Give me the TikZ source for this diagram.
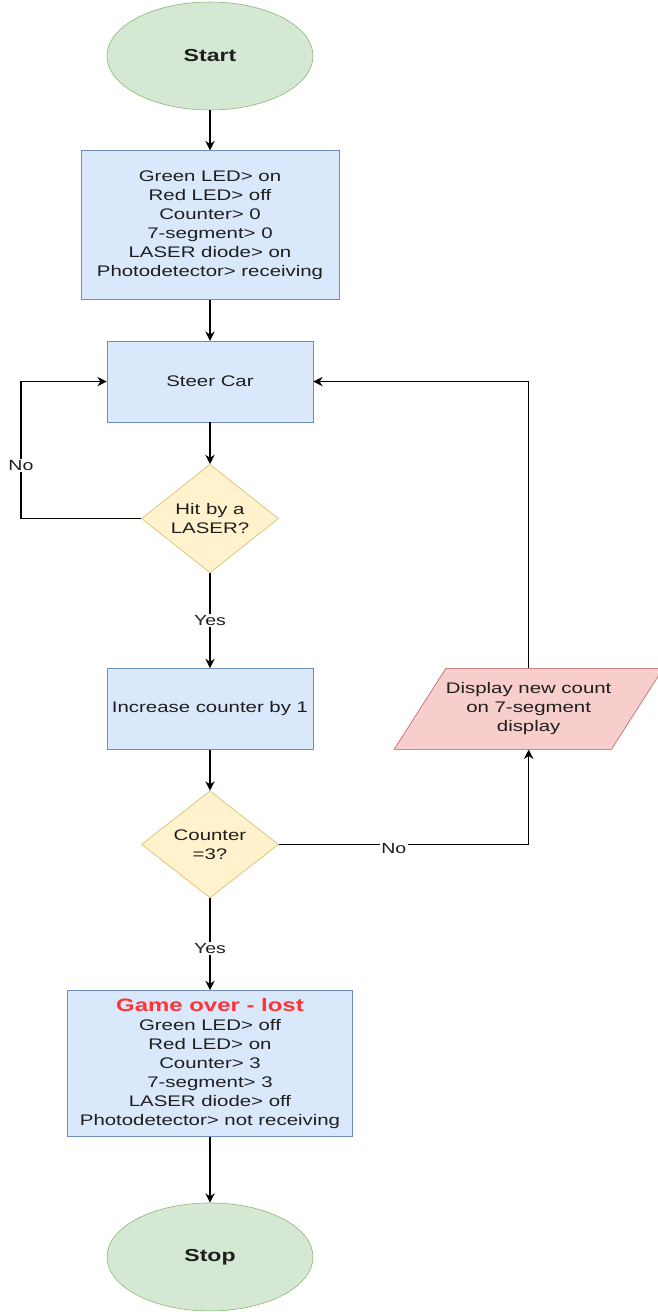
\documentclass[tikz,border=0pt]{standalone}
\usepackage{fontspec}
\setmainfont{Liberation Sans}[FakeStretch=1.33]
\usetikzlibrary{arrows.meta,positioning,shapes.geometric}

\definecolor{termfill}{HTML}{D5E8D4}
\definecolor{termdraw}{HTML}{82B366}
\definecolor{procfill}{HTML}{DAE8FC}
\definecolor{procdraw}{HTML}{6C8EBF}
\definecolor{decfill}{HTML}{FFF2CC}
\definecolor{decdraw}{HTML}{D6B656}
\definecolor{iofill}{HTML}{F8CECC}
\definecolor{iodraw}{HTML}{B85450}
\definecolor{lostred}{HTML}{FF3333}
\definecolor{txt}{HTML}{1E1E1E}

\begin{document}
\begin{tikzpicture}[
    x=0.75pt, y=-0.75pt,
    every node/.style={text=txt},
    term/.style={ellipse, draw=termdraw, fill=termfill, minimum width=154.5pt,
                 minimum height=81pt, inner sep=0pt,
                 font=\fontsize{13}{15}\selectfont\bfseries},
    proc/.style={draw=procdraw, fill=procfill, minimum width=154.5pt,
                 minimum height=60.75pt, align=center,
                 font=\fontsize{11.5}{14.25}\selectfont},
    dec/.style={diamond, draw=decdraw, fill=decfill, minimum width=102.75pt,
                minimum height=80.25pt, inner sep=0pt, align=center,
                font=\fontsize{11.5}{14.25}\selectfont},
    io/.style={trapezium, trapezium left angle=57, trapezium right angle=123,
               trapezium stretches body, draw=iodraw, fill=iofill,
               minimum width=150.5pt, minimum height=60.75pt, inner xsep=0pt,
               inner ysep=10.3pt, align=center,
               font=\fontsize{11.5}{14.25}\selectfont},
    arrow/.style={-{Stealth[length=7pt,width=7pt]}, line width=1pt},
    lbl/.style={fill=white, inner sep=1pt, font=\fontsize{11}{13}\selectfont},
]
\useasboundingbox (0,0) rectangle (657,1316);

% Start
\node[term] (start) at (210,56) {Start};
% Initial state
\node[proc, minimum width=193.5pt, minimum height=111.75pt,
      below=30pt of start] (init) {Green LED> on\\ Red LED> off\\ Counter> 0\\
    7-segment> 0\\ LASER diode> on\\ Photodetector> receiving};
% Steer
\node[proc, below=30.75pt of init] (steer) {Steer Car};
% Hit?
\node[dec, below=31.3pt of steer] (hit) {Hit by a\\ LASER?};
% Counter
\node[proc, below=71.25pt of hit] (inc) {Increase counter by 1};
\node[dec, below=30.75pt of inc] (count) {Counter\\ =3?};
% Display
\node[io, right=239pt of inc.center, anchor=center] (disp) {Display new count\\
    on 7-segment\\ display};
% Game over
\node[proc, minimum width=213.75pt, minimum height=109.5pt,
      below=69pt of count] (lost) {{\fontsize{13.5}{15}\selectfont
    \color{lostred}\bfseries Game over - lost}\\
    Green LED> off\\ Red LED> on\\ Counter> 3\\ 7-segment> 3\\
    LASER diode> off\\ Photodetector> not receiving};
% Stop
\node[term, below=49.5pt of lost] (stop) {Stop};

% Arrows
\draw[arrow] (start) -- (init);
\draw[arrow] (init) -- (steer);
\draw[arrow] (steer) -- (hit);
\draw[arrow] (hit) -- node[lbl] {Yes} (inc);
\draw[arrow] (hit.west) -- ++(-120.3,0) coordinate (noleft)
    -- node[lbl, pos=0.39] {No} (noleft |- steer.west) -- (steer.west);
\draw[arrow] (inc) -- (count);
\draw[arrow] (count.east) -- node[lbl, pos=0.46, yshift=-3pt] {No}
    (count.east -| disp.south) -- (disp.south);
\draw[arrow] (disp.north) |- (steer.east);
\draw[arrow] (count) -- node[lbl, yshift=-3pt] {Yes} (lost);
\draw[arrow] (lost) -- (stop);

\end{tikzpicture}
\end{document}
